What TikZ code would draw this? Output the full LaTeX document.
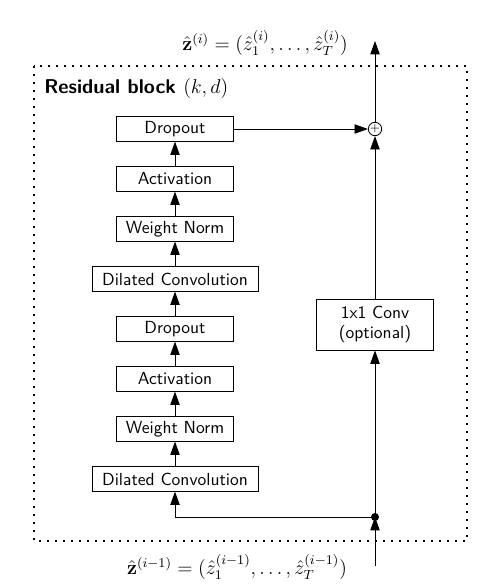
\documentclass[tikz,border=0pt]{standalone}
\usepackage{amsmath}
\usetikzlibrary{arrows.meta}
\tikzset{
  blk/.style={draw, rectangle, line width=0.5pt, minimum height=14.6pt, minimum width=70pt, inner sep=2pt, font=\sffamily\fontsize{10.5}{12.5}\selectfont},
  wideblk/.style={blk, minimum width=99.6pt},
  conn/.style={line width=0.5pt, -{Triangle[length=8pt,width=5.6pt]}},
  plain/.style={line width=0.5pt},
  dotbox/.style={line width=1pt, dash pattern=on 1pt off 3.8pt, line cap=butt}
}
\begin{document}
\begin{tikzpicture}[x=0.6pt,y=-0.6pt]
\useasboundingbox (0,0) rectangle (477,585);
\draw[dotbox] (34,66) rectangle (467,541);
\node[anchor=west, inner sep=0, font=\large] (title) at (44,89) {\sffamily\bfseries Residual block \normalfont$(k,d)$};
% left column
\node[blk] (do2) at (175,129) {Dropout};
\node[blk] (ac2) at (175,179) {Activation};
\node[blk] (wn2) at (175,229) {Weight Norm};
\node[wideblk] (dc2) at (175,279) {Dilated Convolution};
\node[blk] (do1) at (175,329) {Dropout};
\node[blk] (ac1) at (175,379) {Activation};
\node[blk] (wn1) at (175,429) {Weight Norm};
\node[wideblk] (dc1) at (175,479) {Dilated Convolution};
% right column
\node[draw, circle, line width=0.5pt, minimum size=7.4pt, inner sep=0pt] (plus) at (375,129) {\scriptsize$+$};
\node[blk, minimum height=30.6pt, align=center] (conv) at (375,324.5) {1x1 Conv\\(optional)};
\fill (375,517) circle (2.4pt);
\coordinate (dot) at (375,517);
\coordinate (turn) at (175,517);
\coordinate (in) at (375,566);
\coordinate (out) at (375,41);
% texts
\node[font=\large] (ztop) at (265,43) {$\hat{\mathbf{z}}^{(i)} = (\hat{z}_1^{(i)},\ldots,\hat{z}_T^{(i)})$};
\node[font=\large] (zbot) at (237,567) {$\hat{\mathbf{z}}^{(i-1)} = (\hat{z}_1^{(i-1)},\ldots,\hat{z}_T^{(i-1)})$};
% connectors
\draw[conn] (dc1) -- (wn1);
\draw[conn] (wn1) -- (ac1);
\draw[conn] (ac1) -- (do1);
\draw[conn] (do1) -- (dc2);
\draw[conn] (dc2) -- (wn2);
\draw[conn] (wn2) -- (ac2);
\draw[conn] (ac2) -- (do2);
\draw[conn] (do2) -- (plus);
\draw[conn] (conv) -- (plus);
\draw[conn] (dot) -- (conv);
\draw[conn] (dot) -- (turn) -- (dc1);
\draw[conn] (in) -- (dot);
\draw[conn] (plus) -- (out);
\end{tikzpicture}
\end{document}
